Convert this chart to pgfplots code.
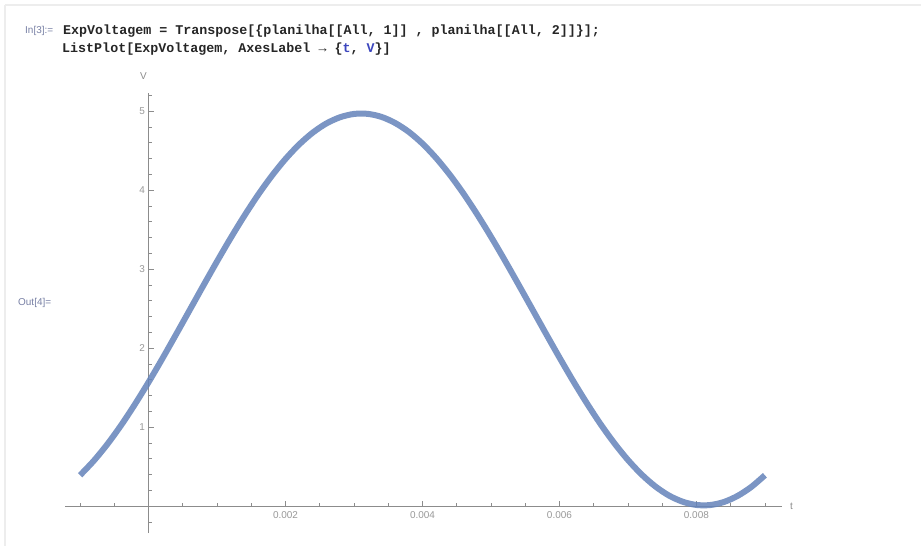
\documentclass[border=0pt]{standalone}
\usepackage{fontspec}
\setmainfont{Liberation Sans}
\setmonofont{Liberation Mono}
\usepackage{pgfplots}
\pgfplotsset{compat=1.18}
\definecolor{mblue}{RGB}{100,131,186}
\definecolor{symblue}{RGB}{60,70,190}
\definecolor{cellgray}{RGB}{120,128,165}
\pgfplotstableread{
t V
-0.0010 0.391
-0.0008 0.574
-0.0006 0.786
-0.0004 1.025
-0.0002 1.288
0.0000 1.569
0.0002 1.865
0.0004 2.171
0.0006 2.481
0.0008 2.792
0.0010 3.098
0.0012 3.395
0.0014 3.677
0.0016 3.941
0.0018 4.181
0.0020 4.395
0.0022 4.579
0.0024 4.730
0.0026 4.846
0.0028 4.924
0.0030 4.965
0.0032 4.966
0.0034 4.928
0.0036 4.851
0.0038 4.738
0.0040 4.589
0.0042 4.406
0.0044 4.194
0.0046 3.955
0.0048 3.692
0.0050 3.411
0.0052 3.115
0.0054 2.809
0.0056 2.499
0.0058 2.188
0.0060 1.882
0.0062 1.585
0.0064 1.303
0.0066 1.039
0.0068 0.799
0.0070 0.585
0.0072 0.401
0.0074 0.250
0.0076 0.134
0.0078 0.056
0.0080 0.015
0.0082 0.014
0.0084 0.052
0.0086 0.129
0.0088 0.242
0.0090 0.391
}\voltdata
\begin{document}
\begin{tikzpicture}
\useasboundingbox (0,0) rectangle (921bp,-546bp);
\fill[white] (0,0) rectangle (921bp,-546bp);
\draw[black!7, line width=1.2bp] (5bp,-5bp) -- (921bp,-5bp);
\draw[black!7, line width=1.2bp] (5bp,-5bp) -- (5bp,-546bp);
\node[anchor=base west, inner sep=0, text=cellgray, font=\fontsize{10}{11}\selectfont] at (25bp,-33bp) {In[3]:=};
\node[anchor=base west, inner sep=0, text=cellgray, font=\fontsize{10}{11}\selectfont] at (18bp,-305bp) {Out[4]=};
\node[anchor=base west, inner sep=0, text=black!85, font=\ttfamily\bfseries\fontsize{13.4}{15}\selectfont] at (63bp,-34bp) {ExpVoltagem = Transpose[\{planilha[[All, 1]] , planilha[[All, 2]]\}];};
\node[anchor=base west, inner sep=0, text=black!85, font=\ttfamily\bfseries\fontsize{13.4}{15}\selectfont] at (62bp,-52bp) {ListPlot[ExpVoltagem, AxesLabel → \{{\color{symblue}t}, {\color{symblue}V}\}]};
\begin{axis}[
  at={(65bp,-533bp)}, anchor=south west,
  width=717bp, height=440bp, scale only axis,
  xmin=-0.00122, xmax=0.00925, ymin=-0.34, ymax=5.23,
  axis lines=middle,
  axis line style={-, draw=black!45, line width=0.8bp},
  xtick={0.002,0.004,0.006,0.008},
  xticklabels={0.002,0.004,0.006,0.008},
  ytick={1,2,3,4,5},
  minor xtick={-0.001,-0.0005,0.0005,0.001,0.0015,0.0025,0.003,0.0035,0.0045,0.005,0.0055,0.0065,0.007,0.0075,0.0085,0.009},
  minor ytick={-0.2,0.2,0.4,0.6,0.8,1.2,1.4,1.6,1.8,2.2,2.4,2.6,2.8,3.2,3.4,3.6,3.8,4.2,4.4,4.6,4.8,5.2},
  tick align=inside,
  major tick length=5bp, minor tick length=3bp,
  tick style={draw=black!45, line width=0.6bp},
  /pgf/number format/assume math mode=true,
  tick label style={font=\fontsize{10}{11}\selectfont, text=black!40},
  xticklabel style={yshift=-2bp},
  clip=false,
  scaled x ticks=false,
]
\addplot[mblue, line width=6bp, smooth, opacity=0.85] table[x=t, y=V] {\voltdata};
\node[anchor=west, text=black!45, font=\fontsize{10}{11}\selectfont, inner sep=0] at (axis cs:0.00925,0) [xshift=8bp] {t};
\node[anchor=center, text=black!45, font=\fontsize{10}{11}\selectfont, inner sep=0] at (axis cs:0,5.23) [xshift=-5bp, yshift=17bp] {V};
\end{axis}
\end{tikzpicture}
\end{document}
